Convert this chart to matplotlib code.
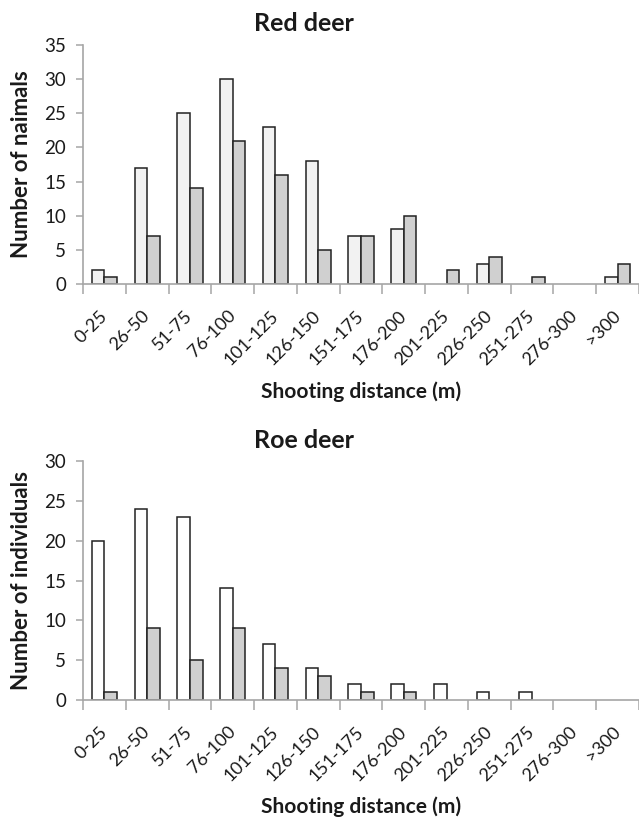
import matplotlib
matplotlib.use("Agg")
import matplotlib.pyplot as plt
import matplotlib.transforms as mtransforms
import numpy as np

categories = ["0-25", "26-50", "51-75", "76-100", "101-125", "126-150", "151-175",
              "176-200", "201-225", "226-250", "251-275", "276-300", ">300"]
red_light = [2, 17, 25, 30, 23, 18, 7, 8, 0, 3, 0, 0, 1]
red_dark = [1, 7, 14, 21, 16, 5, 7, 10, 2, 4, 1, 0, 3]
roe_white = [20, 24, 23, 14, 7, 4, 2, 2, 2, 1, 1, 0, 0]
roe_gray = [1, 9, 5, 9, 4, 3, 1, 1, 0, 0, 0, 0, 0]

plt.rcParams['font.family'] = ['Lato', 'DejaVu Sans']
TXT = '#1a1a1a'
SPINE = '#a6a6a6'

fig = plt.figure(figsize=(6.39, 8.18), dpi=100)
W, H = 639, 818
LEFT = 83

def make_axes(top_px, bottom_px):
    left = LEFT / W
    return fig.add_axes([left, 1 - bottom_px / H, 1 - left, (bottom_px - top_px) / H])

def style(ax, s1, s2, c1, c2, ymax, ylabel, axis_bottom_px, xlabel_base_px):
    x = np.arange(len(categories))
    w = 0.295
    lw1 = [1.1 if v > 0 else 0 for v in s1]
    lw2 = [1.1 if v > 0 else 0 for v in s2]
    ax.bar(x - w / 2, s1, w, color=c1, edgecolor='#222222', linewidth=lw1, zorder=3)
    ax.bar(x + w / 2, s2, w, color=c2, edgecolor='#222222', linewidth=lw2, zorder=3)
    ax.set_xlim(-0.5, len(categories) - 0.5)
    ax.set_ylim(0, ymax)
    ax.set_yticks(np.arange(0, ymax + 1, 5))
    for s in ['top', 'right']:
        ax.spines[s].set_visible(False)
    for s in ['left', 'bottom']:
        ax.spines[s].set_color(SPINE)
        ax.spines[s].set_linewidth(1.2)
    ax.spines['bottom'].set_zorder(4)
    ax.tick_params(axis='y', length=5, width=1.1, color=SPINE, labelsize=13.5,
                   labelcolor=TXT, pad=7)
    ax.set_xticks(np.arange(-0.5, len(categories) - 0.4, 1))
    ax.tick_params(axis='x', which='major', length=7, width=1.1, color=SPINE,
                   labelbottom=False)
    ax.set_xticks(x, minor=True)
    ax.set_xticklabels(categories, minor=True, rotation=45, ha='right', va='center',
                       rotation_mode='anchor', fontsize=13, color=TXT)
    ax.tick_params(axis='x', which='minor', length=0, pad=21)
    ax.set_ylabel(ylabel, fontsize=16, fontweight='bold', color=TXT)
    ax.yaxis.set_label_coords(-(LEFT - 22) / (W - LEFT), 0.5)
    ax.yaxis.label.set_va('center')
    ax.set_xlabel('Shooting distance (m)', fontsize=15, fontweight='bold', color=TXT)
    ax.xaxis.set_label_coords(0.5, -(xlabel_base_px - axis_bottom_px) / 239)
    ax.xaxis.label.set_va('baseline')

ax1 = make_axes(45, 284)
style(ax1, red_light, red_dark, '#f2f2f2', '#d0d0d0', 35, 'Number of naimals', 284, 398)

ax2 = make_axes(461, 700)
style(ax2, roe_white, roe_gray, '#ffffff', '#d0d0d0', 30, 'Number of individuals', 700, 813)

fig.text(304 / W, 1 - 30.7 / H, 'Red deer', ha='center', va='baseline', fontsize=18,
         fontweight='bold', color=TXT)
fig.text(304 / W, 1 - 448 / H, 'Roe deer', ha='center', va='baseline', fontsize=18,
         fontweight='bold', color=TXT)

fig.savefig('out.png', dpi=100, facecolor='white')
